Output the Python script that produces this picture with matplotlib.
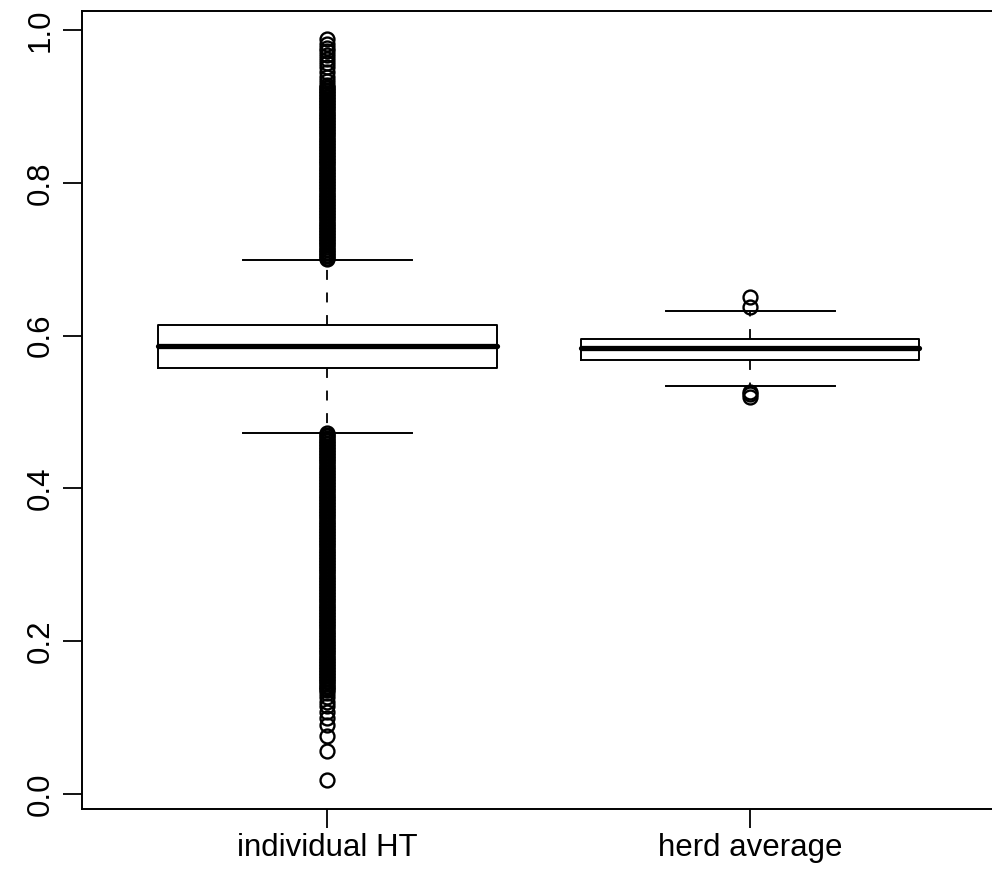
import matplotlib
matplotlib.use("Agg")
import matplotlib.pyplot as plt

plt.rcParams['font.family'] = ['Liberation Sans', 'DejaVu Sans']

# groups
categories = ["individual HT", "herd average"]

# five-number summaries
whislo = [0.473, 0.534]
q1 = [0.5572, 0.5681]
med = [0.5864, 0.5834]
q3 = [0.6139, 0.5952]
whishi = [0.699, 0.6326]

# outliers, individual HT (dense runs read as closely spaced points)
ind_out_high = [
    0.700, 0.702, 0.704, 0.706, 0.708, 0.710, 0.712, 0.714, 0.716, 0.718,
    0.720, 0.722, 0.724, 0.726, 0.728, 0.730, 0.732, 0.734, 0.736, 0.738,
    0.740, 0.742, 0.744, 0.746, 0.748, 0.750, 0.752, 0.754, 0.756, 0.758,
    0.760, 0.762, 0.764, 0.766, 0.768, 0.770, 0.772, 0.774, 0.776, 0.778,
    0.780, 0.782, 0.784, 0.786, 0.788, 0.790, 0.792, 0.794, 0.796, 0.798,
    0.800, 0.802, 0.804, 0.806, 0.808, 0.810, 0.812, 0.814, 0.816, 0.818,
    0.820, 0.822, 0.824, 0.826, 0.828, 0.830, 0.832, 0.834, 0.836, 0.838,
    0.840, 0.842, 0.844, 0.846, 0.848, 0.850, 0.852, 0.854, 0.856, 0.858,
    0.860, 0.862, 0.864, 0.866, 0.868, 0.870, 0.872, 0.874, 0.876, 0.878,
    0.880, 0.882, 0.884, 0.886, 0.888, 0.890, 0.892, 0.894, 0.896, 0.898,
    0.900, 0.902, 0.904, 0.906, 0.908, 0.910, 0.912, 0.914, 0.916, 0.918,
    0.920, 0.922, 0.924, 0.926, 0.928,
    0.933, 0.939, 0.945, 0.951, 0.957, 0.962, 0.967, 0.972, 0.977, 0.982, 0.988,
]
ind_out_low = [
    0.472, 0.470, 0.468, 0.466, 0.464, 0.462, 0.460, 0.458, 0.456, 0.454,
    0.452, 0.450, 0.448, 0.446, 0.444, 0.442, 0.440, 0.438, 0.436, 0.434,
    0.432, 0.430, 0.428, 0.426, 0.424, 0.422, 0.420, 0.418, 0.416, 0.414,
    0.412, 0.410, 0.408, 0.406, 0.404, 0.402, 0.400, 0.398, 0.396, 0.394,
    0.392, 0.390, 0.388, 0.386, 0.384, 0.382, 0.380, 0.378, 0.376, 0.374,
    0.372, 0.370, 0.368, 0.366, 0.364, 0.362, 0.360, 0.358, 0.356, 0.354,
    0.352, 0.350, 0.348, 0.346, 0.344, 0.342, 0.340, 0.338, 0.336, 0.334,
    0.332, 0.330, 0.328, 0.326, 0.324, 0.322, 0.320, 0.318, 0.316, 0.314,
    0.312, 0.310, 0.308, 0.306, 0.304, 0.302, 0.300, 0.298, 0.296, 0.294,
    0.292, 0.290, 0.288, 0.286, 0.284, 0.282, 0.280, 0.278, 0.276, 0.274,
    0.272, 0.270, 0.268, 0.266, 0.264, 0.262, 0.260, 0.258, 0.256, 0.254,
    0.252, 0.250, 0.248, 0.246, 0.244, 0.242, 0.240, 0.238, 0.236, 0.234,
    0.232, 0.230, 0.228, 0.226, 0.224, 0.222, 0.220, 0.218, 0.216, 0.214,
    0.212, 0.210, 0.208, 0.206, 0.204, 0.202, 0.200, 0.198, 0.196, 0.194,
    0.192, 0.190, 0.188, 0.186, 0.184, 0.182, 0.180, 0.178, 0.176, 0.174,
    0.172, 0.170, 0.168, 0.166, 0.164, 0.162, 0.160, 0.158, 0.156, 0.154,
    0.152, 0.150, 0.148, 0.146, 0.144, 0.142, 0.140, 0.138, 0.136,
    0.132, 0.127, 0.121, 0.115, 0.108, 0.100, 0.090, 0.076, 0.056, 0.019,
]
# outliers, herd average
herd_out = [0.651, 0.637, 0.526, 0.523, 0.520]

fliers = [ind_out_high + ind_out_low, herd_out]

stats = []
for i in range(len(categories)):
    stats.append(dict(label=categories[i], whislo=whislo[i], q1=q1[i], med=med[i],
                      q3=q3[i], whishi=whishi[i], fliers=fliers[i]))

fig = plt.figure(figsize=(9.92, 8.9), dpi=100)
ax = fig.add_axes([82 / 992, 81 / 890, 913.6 / 992, 798 / 890])

ax.bxp(stats, positions=[1, 2], widths=0.8, capwidths=0.4,
       boxprops=dict(color="black", linewidth=1.4),
       medianprops=dict(color="black", linewidth=3.8, solid_capstyle="round"),
       whiskerprops=dict(color="black", linewidth=1.3, linestyle=(0, (5.5, 7))),
       capprops=dict(color="black", linewidth=1.4),
       flierprops=dict(marker="o", markerfacecolor="none", markeredgecolor="black",
                       markersize=10, markeredgewidth=1.7))

ax.set_xlim(0.42, 2.58)
ax.set_ylim(-0.0196, 1.0249)
ax.set_yticks([0.0, 0.2, 0.4, 0.6, 0.8, 1.0])
ax.set_yticklabels(["0.0", "0.2", "0.4", "0.6", "0.8", "1.0"])
ax.set_xticks([1, 2])
ax.set_xticklabels(categories)

for s in ax.spines.values():
    s.set_linewidth(1.4)
ax.tick_params(axis="both", length=14, width=1.3, labelsize=22.5, color="black")
ax.tick_params(axis="y", labelrotation=90, pad=5)
ax.tick_params(axis="x", pad=3)
for lab in ax.get_yticklabels():
    lab.set_va("center")

fig.savefig("out.png", dpi=100)
